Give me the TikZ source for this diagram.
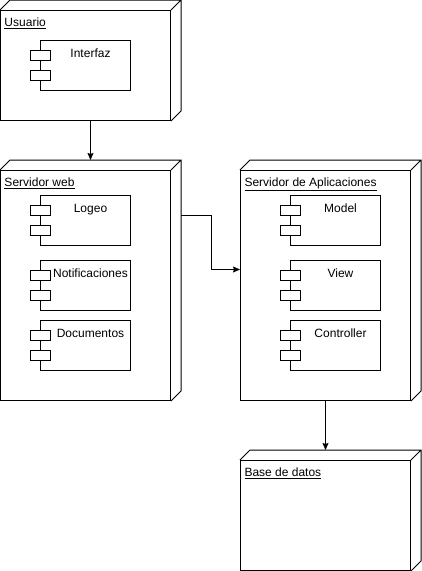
\documentclass[tikz,border=0pt]{standalone}
\usepackage{fontspec}
\setmainfont{Liberation Sans}
\usetikzlibrary{calc,arrows.meta}

\tikzset{
  every node/.style={font=\fontsize{12}{14}\selectfont},
  nodo/.style={draw, line width=1pt, minimum width=170pt, minimum height=#1, inner sep=0pt},
  titulo/.style={anchor=north west, inner sep=4pt, yshift=-3pt},
  componente/.style={draw, fill=white, line width=1pt, minimum width=90pt, minimum height=50pt, inner sep=0pt},
  etiqueta/.style={anchor=north, xshift=5pt, yshift=-5pt},
}

\begin{document}
\begin{tikzpicture}[x=1pt, y=-1pt, >={Stealth[length=7pt, width=6pt, inset=1pt]}, line width=1pt]
\useasboundingbox (0,0) rectangle (421,571);

% nodos de despliegue
\node [nodo=110pt, label={[titulo]north west:\underline{Usuario}}] (usuario) at (85.5,65.5) {};
\node [nodo=230pt, label={[titulo]north west:\underline{Servidor web}}] (web) at (85.5,285.5) {};
\node [nodo=230pt, label={[titulo]north west:\underline{Servidor de Aplicaciones}}] (app) at (325.5,285.5) {};
\node [nodo=110pt, label={[titulo]north west:\underline{Base de datos}}] (bd) at (325.5,515.5) {};

\foreach \n in {usuario,web,app,bd}
  \draw (\n.north west) -- ++(10,-10) -| ($(\n.south east)+(10,-10)$) -- (\n.south east)
        (\n.north east) -- ++(10,-10);

% componentes
\foreach \c/\l/\x/\y in {interfaz/Interfaz/85.5/65.5, logeo/Logeo/85.5/220.5,
    notif/Notificaciones/85.5/285.5, docs/Documentos/85.5/345.5,
    model/Model/335.5/220.5, view/View/335.5/285.5, controller/Controller/335.5/345.5}
{
  \node [componente, label={[etiqueta]north:\l}] (\c) at (\x,\y) {};
  \draw [fill=white] ($(\c.west)+(-10,-15)$) rectangle ++(20,10);
  \draw [fill=white] ($(\c.west)+(-10,5)$) rectangle ++(20,10);
}

% conexiones
\draw [->] ([xshift=5pt]usuario.south) -- ([xshift=5pt, yshift=10pt]web.north);
\draw [->] ([xshift=10pt, yshift=70pt]web.east) -- ++(30,0) |- ([yshift=16pt]app.west);
\draw [->] (app.south) -- ([yshift=10pt]bd.north);
\end{tikzpicture}
\end{document}
